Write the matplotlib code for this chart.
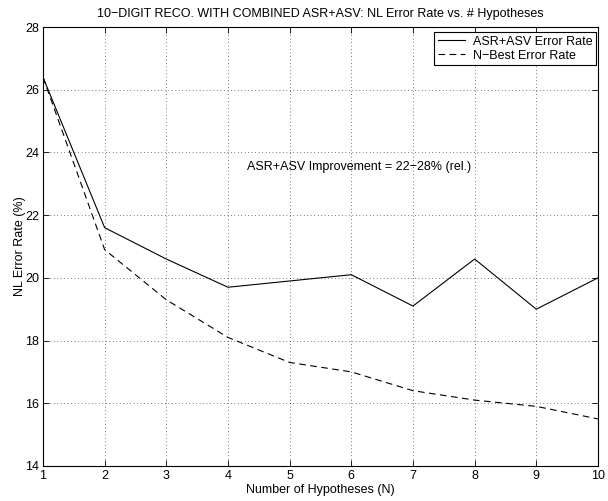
import matplotlib
matplotlib.use("Agg")
import matplotlib.pyplot as plt

# number of hypotheses and the two error rate curves
n_hyp = [1, 2, 3, 4, 5, 6, 7, 8, 9, 10]
asr_asv = [26.4, 21.6, 20.6, 19.7, 19.9, 20.1, 19.1, 20.6, 19.0, 20.0]
nbest = [26.4, 20.9, 19.3, 18.1, 17.3, 17.0, 16.4, 16.1, 15.9, 15.5]

plt.rcParams['font.family'] = ['Liberation Sans', 'DejaVu Sans']
plt.rcParams['font.size'] = 9

fig = plt.figure(figsize=(6.08, 5.01), dpi=100)
ax = fig.add_axes([0.0707, 0.070, 0.9128, 0.876])

ax.plot(n_hyp, asr_asv, color='black', lw=0.8, label='ASR+ASV Error Rate')
ax.plot(n_hyp, nbest, color='black', lw=0.8, ls=(0, (6, 4)), label='N\u2212Best Error Rate')

ax.set_xlim(1, 10)
ax.set_ylim(14, 28)
ax.set_xticks(range(1, 11))
ax.set_yticks(range(14, 29, 2))
ax.tick_params(direction='in', top=True, right=True, length=4, width=0.6,
               labelsize=9, pad=3)
ax.grid(True, color='black', ls=(0, (1, 4)), lw=0.5)
for s in ax.spines.values():
    s.set_linewidth(0.8)

ax.set_title('10\u2212DIGIT RECO. WITH COMBINED ASR+ASV: NL Error Rate vs. # Hypotheses',
             fontsize=9, pad=7)
ax.set_xlabel('Number of Hypotheses (N)', fontsize=9, labelpad=1.5)
ax.set_ylabel('NL Error Rate (%)', fontsize=9, labelpad=-1)

ax.text(6.13, 23.54, 'ASR+ASV Improvement = 22\u221228% (rel.)', ha='center', va='center', fontsize=9)

leg = ax.legend(loc='upper right', bbox_to_anchor=(0.9964, 0.9886), fancybox=False,
                framealpha=1, edgecolor='black', borderaxespad=0, handlelength=2.2,
                fontsize=9, borderpad=0.3, labelspacing=0.15, handletextpad=0.6)
leg.get_frame().set_linewidth(0.8)

fig.savefig('out.png', dpi=100)
